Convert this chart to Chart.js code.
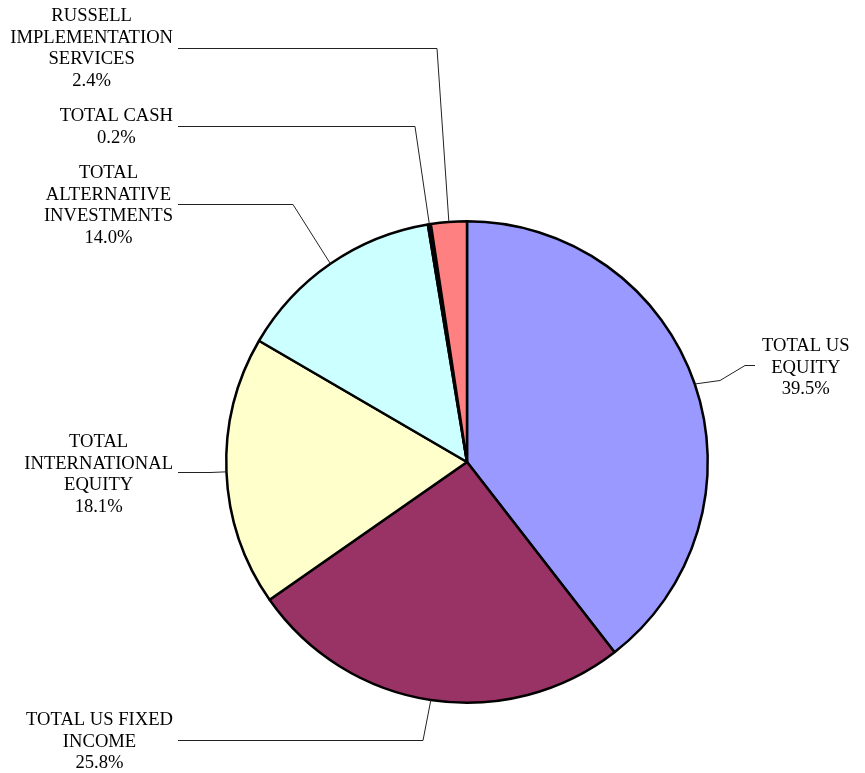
<!DOCTYPE html>
<html>
<head>
<meta charset="utf-8">
<script src="https://cdn.jsdelivr.net/npm/chart.js@4/dist/chart.umd.min.js"></script>
<style>
  body { margin: 0; background: #fff; }
  canvas { display: block; }
</style>
</head>
<body>
<canvas id="graficaTarta" width="865" height="773"></canvas>
<script>
// datos del grafico (en sentido horario desde arriba)
const categorias = [
    ['TOTAL US', 'EQUITY'],
    ['TOTAL US FIXED', 'INCOME'],
    ['TOTAL', 'INTERNATIONAL', 'EQUITY'],
    ['TOTAL', 'ALTERNATIVE', 'INVESTMENTS'],
    ['TOTAL CASH'],
    ['RUSSELL', 'IMPLEMENTATION', 'SERVICES']
];
const valores = [39.5, 25.8, 18.1, 14.0, 0.2, 2.4];
const colores = ['#9999FF', '#993366', '#FFFFCC', '#CCFFFF', '#000080', '#FF8080'];

// posicion de cada etiqueta: lado, borde del texto, primera linea base, puntos del conector
const etiquetas = [
    { lado: 'der', x: 762, y: 351, guia: [[755, 365], [745, 365], [720, 380]] },
    { lado: 'izq', x: 173, y: 725, guia: [[178, 740], [423, 740]] },
    { lado: 'izq', x: 173, y: 447, guia: [[178, 472], [210, 472]] },
    { lado: 'izq', x: 173, y: 178, guia: [[178, 204], [293, 204]] },
    { lado: 'izq', x: 173, y: 121, guia: [[178, 126], [415, 126]] },
    { lado: 'izq', x: 173, y: 21,  guia: [[178, 48],  [437, 48]] }
];
const altoLinea = 21.7;

const pluginEtiquetas = {
    id: 'etiquetas',
    afterDatasetsDraw(chart) {
        const ctx = chart.ctx;
        const arcos = chart.getDatasetMeta(0).data;
        ctx.save();
        ctx.font = '18.6px "Liberation Serif", "DejaVu Serif", serif';
        ctx.fillStyle = '#000';
        ctx.textBaseline = 'alphabetic';
        ctx.textAlign = 'center';
        arcos.forEach((arco, i) => {
            const p = arco.getProps(['x', 'y', 'startAngle', 'endAngle', 'outerRadius'], true);
            const medio = (p.startAngle + p.endAngle) / 2;
            const bx = p.x + Math.cos(medio) * p.outerRadius;
            const by = p.y + Math.sin(medio) * p.outerRadius;
            const e = etiquetas[i];

            // conector
            ctx.strokeStyle = '#222';
            ctx.lineWidth = 1;
            ctx.beginPath();
            e.guia.forEach((pt, k) => {
                if (k === 0) ctx.moveTo(pt[0], pt[1] + 0.5);
                else ctx.lineTo(pt[0], pt[1] + 0.5);
            });
            ctx.lineTo(bx, by);
            ctx.stroke();

            // texto
            const lineas = categorias[i].concat([valores[i].toFixed(1) + '%']);
            let ancho = 0;
            lineas.forEach(l => { ancho = Math.max(ancho, ctx.measureText(l).width); });
            const cx = e.lado === 'izq' ? e.x - ancho / 2 : e.x + ancho / 2;
            lineas.forEach((l, k) => {
                ctx.fillText(l, cx, e.y + k * altoLinea);
            });
        });
        ctx.restore();
    }
};

const config = {
    type: 'pie',
    data: {
        labels: categorias.map(c => c.join(' ')),
        datasets: [{
            data: valores,
            backgroundColor: colores,
            borderColor: '#000',
            borderWidth: 2.5,
            hoverOffset: 0
        }]
    },
    options: {
        responsive: false,
        animation: false,
        layout: {
            padding: { left: 225, right: 156, top: 220, bottom: 69 }
        },
        plugins: {
            legend: { display: false },
            tooltip: { enabled: false }
        }
    },
    plugins: [pluginEtiquetas]
};

let graficaTarta = new Chart(document.getElementById('graficaTarta'), config);
</script>
</body>
</html>
